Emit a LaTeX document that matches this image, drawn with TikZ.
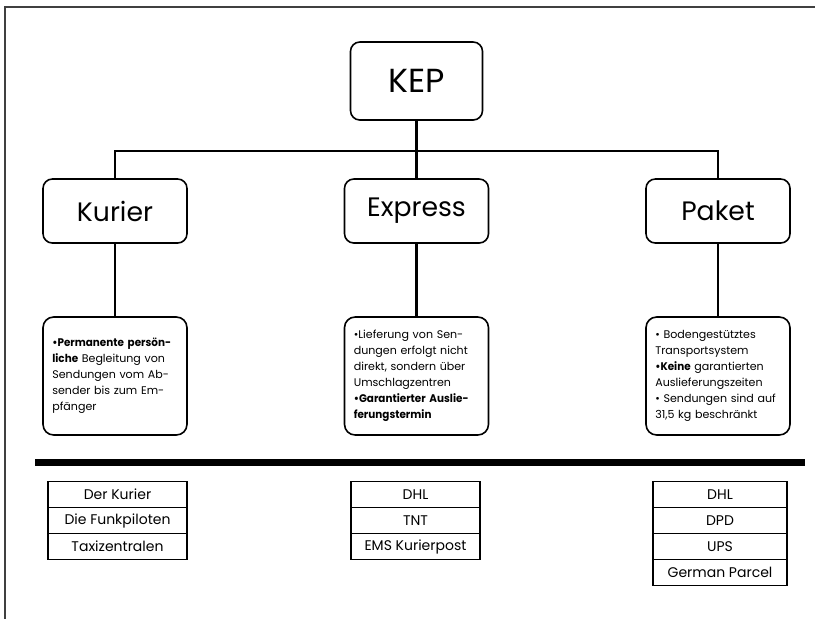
\documentclass[tikz,border=0pt]{standalone}
\usepackage{fontspec}
\setmainfont{Poppins}[BoldFeatures={FakeStretch=0.94}]
\usepackage{tikz}
\usetikzlibrary{positioning}

\begin{document}
\begin{tikzpicture}[
    x=0.75pt, y=-0.75pt,
    topbox/.style={rectangle, draw, rounded corners=7pt, line width=1.2pt, minimum width=99pt, minimum height=58.5pt, font=\fontsize{25}{30}\selectfont},
    catbox/.style={rectangle, draw, rounded corners=7pt, line width=1.2pt, minimum width=108pt, minimum height=48pt, font=\fontsize{20}{24}\selectfont},
    descbox/.style={rectangle, draw, rounded corners=8pt, line width=1.2pt, minimum width=108pt, minimum height=88.5pt, text width=94pt, align=left, font=\fontsize{8.3}{12}\selectfont},
    firm/.style={rectangle, draw, line width=1.2pt, outer sep=0pt, inner sep=0pt, minimum height=19.5pt, font=\fontsize{10.5}{12}\selectfont},
    conn/.style={line width=1.8pt}
]
\useasboundingbox (0,0) rectangle (815,619);
\draw[line width=0.8pt, black!75] (815,7) -- (5,7) -- (5,619);

% tree
\node[topbox] (KEP) at (416.5,81) {KEP};
\node[catbox] (Kurier) at (115,211) {Kurier};
\node[catbox] (Express) at (416.5,211) {Express};
\node[catbox] (Paket) at (718,211) {Paket};

\coordinate (bus) at (416.5,151);
\draw[conn] (KEP) -- (bus);
\draw[conn] (Kurier) |- (bus) -| (Paket);
\draw[conn] (bus) -- (Express);

% descriptions
\node[descbox] (KurierText) at (115,376) {\textbf{•Permanente persön-}\\
\textbf{liche} Begleitung von\\ Sendungen vom Ab-\\ sender bis zum Em-\\ pfänger};
\node[descbox] (ExpressText) at (416.5,376) {•Lieferung von Sen-\\
dungen erfolgt nicht\\ direkt, sondern über\\ Umschlagzentren\\
\textbf{•Garantierter Auslie-}\\ \textbf{ferungstermin}};
\node[descbox] (PaketText) at (718,376) {• Bodengestütztes\\
Transportsystem\\ \textbf{•Keine} garantierten\\ Auslieferungszeiten\\
• Sendungen sind auf\\ 31,5 kg beschränkt};

\draw[conn] (Kurier) -- (KurierText);
\draw[conn] (Express) -- (ExpressText);
\draw[conn] (Paket) -- (PaketText);

% separator
\draw[line width=5pt] (35,462.5) -- (805,462.5);

% companies
\node[firm, minimum width=104pt] (k1) at (117.5,494.5) {Der Kurier};
\node[firm, minimum width=104pt, below=0pt of k1] (k2) {Die Funkpiloten};
\node[firm, minimum width=104pt, below=0pt of k2] (k3) {Taxizentralen};

\node[firm, minimum width=97pt] (e1) at (415.5,494.5) {DHL};
\node[firm, minimum width=97pt, below=0pt of e1] (e2) {TNT};
\node[firm, minimum width=97pt, below=0pt of e2] (e3) {EMS Kurierpost};

\node[firm, minimum width=100.5pt] (p1) at (720,494.5) {DHL};
\node[firm, minimum width=100.5pt, below=0pt of p1] (p2) {DPD};
\node[firm, minimum width=100.5pt, below=0pt of p2] (p3) {UPS};
\node[firm, minimum width=100.5pt, below=0pt of p3] (p4) {German Parcel};
\end{tikzpicture}
\end{document}
